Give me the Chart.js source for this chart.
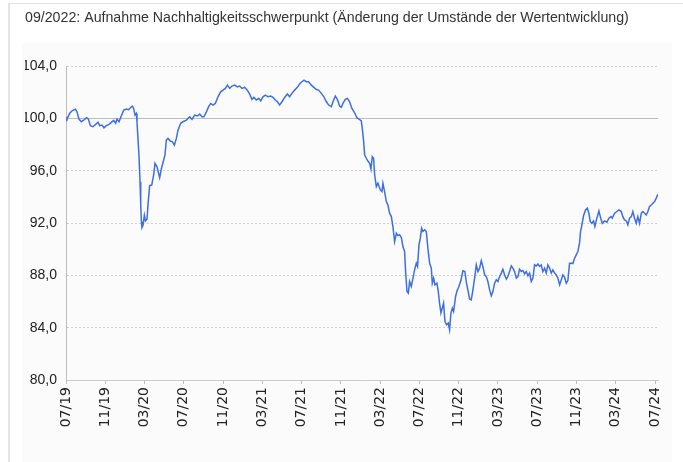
<!DOCTYPE html>
<html>
<head>
    <title>Wertentwicklung</title>
    <script src="https://cdn.jsdelivr.net/npm/chart.js"></script>
    <style>
        body {
            margin: 0;
            background: #ffffff;
            font-family: "Liberation Sans", Arial, sans-serif;
        }
        #frame {
            position: absolute;
            left: 8px;
            top: 3px;
            right: 0;
            bottom: 0;
            border-left: 2px solid #e4e4e4;
            border-top: 1px solid #e4e4e4;
        }
        #panel {
            position: absolute;
            left: 22px;
            top: 42px;
            width: 650px;
            height: 420px;
            background: #fbfbfb;
        }
        #chart {
            position: absolute;
            left: 0;
            top: 0;
        }
    </style>
</head>
<body>
    <div id="frame"></div>
    <div id="panel"></div>
    <canvas id="chart" width="683" height="462"></canvas>

    <script>
        // x = months since 07/2019, y = index value
        const months = [
            0, 0.10, 0.38, 0.65, 0.96, 1.12, 1.32, 1.57, 1.80, 2.08, 2.28, 2.48, 2.75, 3.02, 3.26, 3.43,
            3.67, 3.87, 4.11, 4.38, 4.62, 4.86, 5.06, 5.19, 5.40, 5.64, 5.88, 6.15, 6.38, 6.56, 6.76, 6.89,
            7.03, 7.17, 7.23, 7.33, 7.43, 7.54, 7.61, 7.68, 7.74, 7.84, 7.98, 8.09, 8.25, 8.35, 8.52, 8.73,
            8.93, 9.06, 9.27, 9.54, 9.71, 9.95, 10.08, 10.22, 10.39, 10.63, 10.84, 11.04, 11.24, 11.41, 11.68, 11.91,
            12.26, 12.60, 12.83, 13.11, 13.38, 13.62, 13.85, 14.05, 14.30, 14.53, 14.74, 14.97, 15.21, 15.48, 15.75, 15.99,
            16.23, 16.44, 16.67, 16.90, 17.18, 17.45, 17.69, 17.92, 18.20, 18.47, 18.71, 18.94, 19.14, 19.39, 19.62, 19.83,
            20.06, 20.31, 20.57, 20.85, 21.08, 21.32, 21.53, 21.76, 22.00, 22.27, 22.55, 22.78, 23.01, 23.29, 23.56, 23.80,
            24.03, 24.24, 24.48, 24.71, 24.99, 25.25, 25.50, 25.73, 26.01, 26.27, 26.52, 26.75, 27.03, 27.19, 27.43, 27.64,
            27.87, 28.04, 28.21, 28.45, 28.66, 28.89, 29.12, 29.40, 29.63, 29.84, 30.08, 30.18, 30.32, 30.42, 30.59, 30.75,
            30.93, 31.06, 31.20, 31.33, 31.44, 31.61, 31.77, 32.02, 32.18, 32.28, 32.45, 32.63, 32.79, 32.96, 33.14, 33.30,
            33.47, 33.65, 33.81, 33.98, 34.16, 34.32, 34.49, 34.59, 34.73, 34.87, 35.00, 35.17, 35.34, 35.51, 35.68, 35.81,
            35.95, 36.09, 36.22, 36.35, 36.53, 36.70, 36.86, 37.04, 37.21, 37.31, 37.45, 37.58, 37.78, 37.92, 38.05, 38.19,
            38.33, 38.46, 38.60, 38.77, 38.94, 39.07, 39.21, 39.35, 39.48, 39.68, 39.81, 40.02, 40.22, 40.43, 40.63, 40.77,
            40.94, 41.11, 41.28, 41.45, 41.62, 41.79, 41.96, 42.13, 42.30, 42.46, 42.64, 42.81, 42.97, 43.15, 43.32, 43.48,
            43.66, 43.83, 43.99, 44.17, 44.34, 44.50, 44.67, 44.85, 45.01, 45.18, 45.36, 45.52, 45.69, 45.87, 46.03, 46.20,
            46.38, 46.54, 46.71, 46.88, 47.05, 47.22, 47.39, 47.56, 47.73, 47.90, 48.07, 48.24, 48.41, 48.57, 48.75, 48.92,
            49.08, 49.26, 49.43, 49.59, 49.77, 49.94, 50.10, 50.28, 50.45, 50.61, 50.78, 50.96, 51.12, 51.29, 51.46, 51.63,
            51.80, 51.97, 52.14, 52.31, 52.41, 52.55, 52.72, 52.92, 53.10, 53.26, 53.40, 53.56, 53.73, 53.87, 54.07, 54.28,
            54.42, 54.62, 54.86, 55.09, 55.30, 55.50, 55.64, 55.88, 56.11, 56.32, 56.56, 56.72, 56.89, 57.07, 57.23, 57.40,
            57.58, 57.74, 57.91, 58.09, 58.25, 58.42, 58.60, 58.76, 58.93, 59.10, 59.27, 59.44, 59.61, 59.78, 59.95, 60.12,
            60.29
        ];
        const values = [
            100.05, 99.95, 100.4, 100.6, 100.7, 100.5, 99.95, 99.74, 99.87, 100.05, 99.95, 99.44, 99.36, 99.54, 99.7, 99.44,
            99.49, 99.28, 99.44, 99.54, 99.69, 99.85, 99.62, 99.95, 99.74, 100.2, 100.63, 100.71, 100.66, 100.81, 100.94, 100.76,
            100.25, 100.38, 99.74, 98.47, 97.2, 95.16, 93.38, 92.1, 91.65, 91.8, 92.6, 92.16, 92.3, 93.38, 94.86, 94.9,
            95.67, 96.56, 96.3, 95.47, 96.13, 96.82, 97.2, 98.34, 98.47, 98.27, 98.21, 97.96, 98.47, 99.1, 99.62, 99.74,
            99.87, 100.12, 99.92, 100.25, 100.18, 100.33, 100.12, 100.12, 100.5, 100.89, 101.14, 101.02, 101.14, 101.65, 102.03, 102.16,
            102.29, 102.54, 102.29, 102.47, 102.54, 102.41, 102.47, 102.29, 102.37, 102.16, 101.86, 101.45, 101.6, 101.4, 101.53, 101.34,
            101.65, 101.78, 101.65, 101.7, 101.6, 101.4, 101.27, 101.02, 101.27, 101.6, 101.86, 101.65, 101.91, 102.16, 102.37, 102.62,
            102.8, 102.92, 102.8, 102.8, 102.54, 102.37, 102.21, 102.16, 101.91, 101.65, 101.27, 101.02, 100.89, 101.27, 101.7, 101.45,
            100.94, 100.84, 101.14, 101.45, 101.53, 101.27, 100.76, 100.43, 100.05, 99.95, 99.8, 99.24, 98.21, 97.2, 96.95, 96.74,
            96.56, 96.13, 97.07, 96.95, 95.67, 94.78, 95.04, 94.53, 94.4, 95.04, 94.4, 93.64, 93.38, 92.75, 92.49, 91.73,
            90.58, 91.22, 91.04, 91.1, 90.89, 90.2, 89.82, 88.29, 86.76, 86.64, 87.53, 87.15, 87.79, 88.42, 88.93, 88.68,
            90.33, 90.84, 91.6, 91.35, 91.48, 91.35, 90.08, 88.93, 88.55, 87.4, 87.79, 87.27, 87.4, 86.76, 85.88, 85.12,
            85.5, 85.88, 84.47, 84.22, 84.35, 83.84, 85.12, 85.5, 85.24, 86.38, 86.76, 87.15, 87.6, 88.35, 88.29, 87.5,
            86.85, 86.2, 86.13, 86.89, 87.79, 88.8, 88.29, 88.55, 89.13, 88.68, 88.04, 87.91, 87.53, 86.89, 86.43, 86.76,
            87.4, 87.66, 87.53, 87.91, 88.17, 88.47, 88.04, 87.71, 87.91, 88.29, 88.72, 88.55, 88.29, 87.79, 87.91, 88.47,
            88.29, 88.37, 88.12, 88.29, 87.96, 88.17, 87.53, 87.79, 88.8, 88.72, 88.87, 88.68, 88.8, 88.29, 88.55, 88.17,
            88.8, 88.55, 88.17, 88.42, 88.17, 88.04, 87.79, 87.27, 87.66, 88.04, 87.86, 87.4, 87.6, 88.93, 88.93, 88.9,
            89.3, 89.56, 89.82, 90.5, 91.35, 91.86, 92.57, 93.0, 93.13, 92.75, 92.1, 91.98, 92.16, 91.73, 92.37, 92.92,
            92.49, 91.98, 92.16, 92.06, 92.37, 92.49, 92.37, 92.75, 92.88, 93.0, 92.88, 92.49, 92.24, 92.16, 91.86, 92.37,
            92.49, 92.88, 92.37, 91.98, 92.49, 91.98, 92.75, 92.88, 92.75, 92.62, 92.88, 93.26, 93.38, 93.51, 93.64, 93.9,
            94.2
        ];

        const tickMonths = [0, 4, 8, 12, 16, 20, 24, 28, 32, 36, 40, 44, 48, 52, 56, 60];
        const tickLabels = ['07/19', '11/19', '03/20', '07/20', '11/20', '03/21', '07/21', '11/21',
                            '03/22', '07/22', '11/22', '03/23', '07/23', '11/23', '03/24', '07/24'];
        const yTicks = [80, 84, 88, 92, 96, 100, 104];
        const baseline = 100;
        const titleText = '09/2022: Aufnahme Nachhaltigkeitsschwerpunkt (Änderung der Umstände der Wertentwicklung)';

        const points = months.map((m, i) => ({ x: m, y: values[i] }));

        // solid line at 100, the other grid lines are dotted
        const baselinePlugin = {
            id: 'baseline',
            beforeDatasetsDraw(chart) {
                const { ctx, chartArea, scales } = chart;
                const y = Math.round(scales.y.getPixelForValue(baseline)) + 0.5;
                ctx.save();
                ctx.strokeStyle = '#bdbdbd';
                ctx.lineWidth = 1;
                ctx.beginPath();
                ctx.moveTo(chartArea.left, y);
                ctx.lineTo(chartArea.right, y);
                ctx.stroke();
                ctx.restore();
            }
        };

        const ctx = document.getElementById('chart').getContext('2d');
        const myChart = new Chart(ctx, {
            type: 'line',
            data: {
                datasets: [{
                    data: points,
                    borderColor: '#3d6fe2',
                    borderWidth: 1.5,
                    pointRadius: 0,
                    tension: 0,
                    fill: false
                }]
            },
            options: {
                responsive: false,
                animation: false,
                layout: {
                    padding: { left: 25, right: 25, top: 0, bottom: 0 }
                },
                plugins: {
                    legend: { display: false },
                    tooltip: { enabled: false },
                    title: {
                        display: true,
                        text: titleText,
                        align: 'start',
                        color: '#333333',
                        font: { family: '"Liberation Sans", Arial, sans-serif', size: 14.2, weight: 'normal' },
                        padding: { top: 10, bottom: 39 }
                    }
                },
                scales: {
                    x: {
                        type: 'linear',
                        min: 0,
                        max: 60.3,
                        afterBuildTicks: (scale) => {
                            scale.ticks = tickMonths.map(v => ({ value: v }));
                        },
                        afterFit: (scale) => { scale.height = 82; },
                        ticks: {
                            autoSkip: false,
                            maxRotation: 90,
                            minRotation: 90,
                            padding: 3,
                            color: '#222222',
                            font: { family: '"DejaVu Sans", sans-serif', size: 14 },
                            callback: (value) => tickLabels[tickMonths.indexOf(value)]
                        },
                        grid: {
                            drawOnChartArea: false,
                            drawTicks: true,
                            tickLength: 4,
                            color: '#bdbdbd'
                        },
                        border: { color: '#cccccc' }
                    },
                    y: {
                        min: 80,
                        max: 104,
                        afterBuildTicks: (scale) => {
                            scale.ticks = yTicks.map(v => ({ value: v }));
                        },
                        afterFit: (scale) => { scale.width = 41; },
                        ticks: {
                            padding: 9,
                            color: '#222222',
                            font: { family: '"Liberation Sans", Arial, sans-serif', size: 14 },
                            callback: (value) => value.toFixed(1).replace('.', ',')
                        },
                        grid: {
                            drawTicks: false,
                            color: (c) => (c.tick && (c.tick.value === baseline || c.tick.value === 80)) ? 'rgba(0,0,0,0)' : '#cfcfcf'
                        },
                        border: { color: '#bdbdbd', dash: [2, 2] }
                    }
                }
            },
            plugins: [baselinePlugin]
        });
    </script>
</body>
</html>
